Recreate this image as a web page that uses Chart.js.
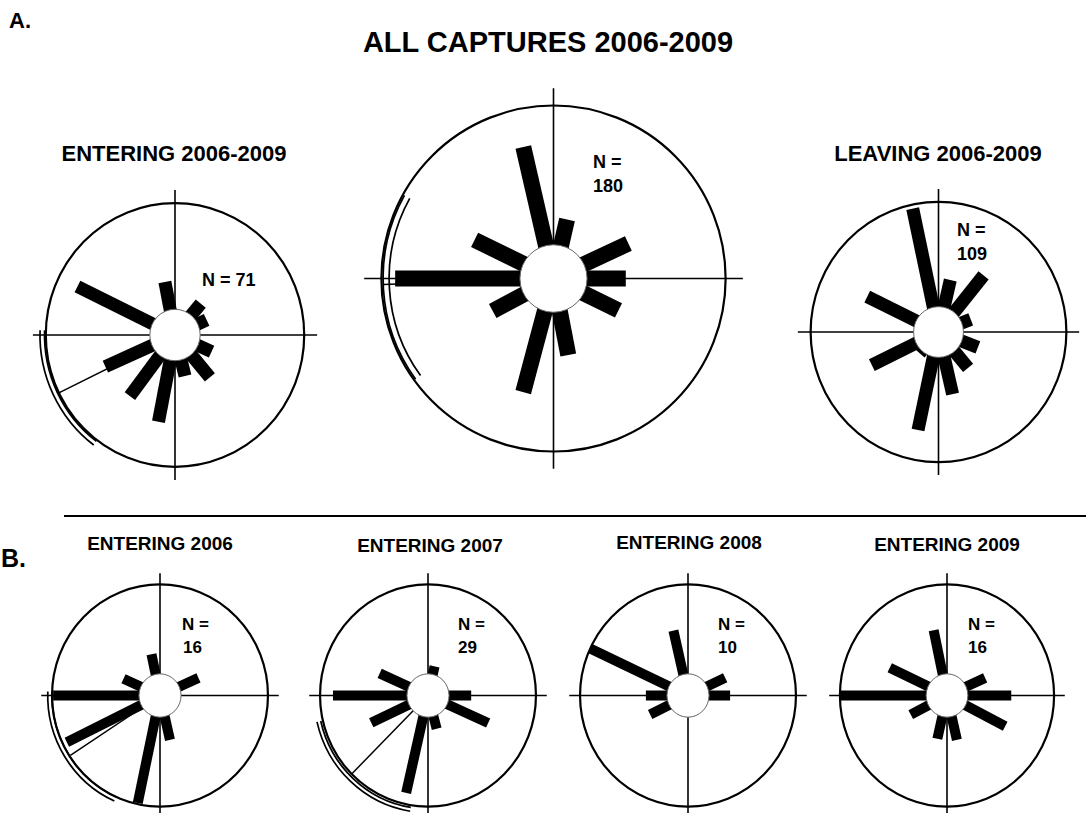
<!DOCTYPE html>
<html><head><meta charset="utf-8">
<script src="https://cdn.jsdelivr.net/npm/chart.js@4.4.1/dist/chart.umd.min.js"></script>
<style>
html,body{margin:0;padding:0;background:#fff;}
#fig{position:relative;width:1086px;height:813px;overflow:hidden;background:#fff;font-family:"Liberation Sans",Arial,sans-serif;font-weight:bold;color:#000;}
.t{position:absolute;white-space:nowrap;line-height:1;}
canvas{position:absolute;}
#rule{position:absolute;left:64px;top:515px;width:1022px;height:2px;background:#000;}
</style></head><body><div id="fig"><div id="rule"></div></div>
<script>
// ---------- DATA (bar direction in degrees clockwise from north, bar reach in % of circle radius) ----------
const allAngles = [347, 13, 296, 65, 90, 270, 116, 242, 169, 195];
const allValues = [78, 35, 51, 48, 42, 92, 42, 40, 45, 68];
const enteringAllAngles = [296, 349, 40, 65, 114, 140, 166, 191, 217, 246];
const enteringAllValues = [84, 41, 31, 27, 31, 42, 32, 67, 58, 59];
const leavingAngles = [348, 13, 39, 69, 296, 111, 140, 167, 192, 244, 222];
const leavingValues = [97, 41, 56, 27, 62, 33, 36, 49, 77, 58, 22];
const e2006Angles = [348, 294, 66, 270, 244, 192, 167];
const e2006Values = [38, 37, 39, 99, 96, 99, 41];
const e2007Angles = [13, 294, 270, 90, 245, 114, 165, 193];
const e2007Values = [27, 49, 88, 40, 58, 61, 31, 90];
const e2008Angles = [295, 347, 65, 90, 270, 244];
const e2008Values = [100, 60, 38, 39, 39, 39];
const e2009Angles = [348, 295, 66, 270, 90, 243, 117, 193, 167];
const e2009Values = [60, 59, 39, 99, 60, 38, 61, 40, 41];
// mean direction and its confidence arc [from, to] (degrees clockwise from north)
const allMean = 268, allArc = [234, 299];
const enteringAllMean = 244, enteringAllArc = [217, 272];
const e2006Mean = 237, e2006Arc = [204, 272];
const e2007Mean = 225, e2007Arc = [189, 257];
// sample sizes
const nAll = "180", nEnteringAll = "71", nLeaving = "109";
const n2006 = "16", n2007 = "29", n2008 = "10", n2009 = "16";

// ---------- LAYOUT ----------
const EXT = 1.13, CROSS = 1.1;
const panels = [
  {cx:553, cy:278, rx:172, ry:173, bw:16, angles:allAngles, values:allValues, mean:allMean, meanLen:0.99, arc:allArc, arcR:[0.99,0.955]},
  {cx:175, cy:335, rx:129, ry:132, bw:13, angles:enteringAllAngles, values:enteringAllValues, mean:enteringAllMean, meanLen:1.0, arc:enteringAllArc, arcR:[1.01,1.045]},
  {cx:938, cy:332, rx:128, ry:130, bw:13, angles:leavingAngles, values:leavingValues},
  {cx:160, cy:695, rx:108, ry:111, bw:10, angles:e2006Angles, values:e2006Values, mean:e2006Mean, meanLen:0.99, arc:e2006Arc, arcR:[1.0,1.04]},
  {cx:428, cy:695, rx:108, ry:111, bw:10, angles:e2007Angles, values:e2007Values, mean:e2007Mean, meanLen:1.0, arc:e2007Arc, arcR:[1.02,1.055]},
  {cx:688, cy:695, rx:108, ry:111, bw:10, angles:e2008Angles, values:e2008Values},
  {cx:947, cy:695, rx:107, ry:111, bw:10, angles:e2009Angles, values:e2009Values}
];
const texts = [
  {s:"A.", x:9, b:29, f:22},
  {s:"ALL CAPTURES 2006-2009", x:548, b:53, f:29, c:true},
  {s:"ENTERING 2006-2009", x:174, b:162, f:22, c:true},
  {s:"LEAVING 2006-2009", x:938, b:162, f:22, c:true},
  {s:"B.", x:1, b:567, f:25},
  {s:"ENTERING 2006", x:160, b:550, f:19, c:true},
  {s:"ENTERING 2007", x:430, b:552, f:19, c:true},
  {s:"ENTERING 2008", x:689, b:549, f:19, c:true},
  {s:"ENTERING 2009", x:947, b:551, f:19, c:true},
  {s:"N = " + nEnteringAll, x:202, b:286, f:18},
  {s:"N =", x:593, b:168, f:18}, {s:nAll, x:593, b:192, f:18},
  {s:"N =", x:957, b:236, f:18}, {s:nLeaving, x:957, b:260, f:18},
  {s:"N =", x:182, b:630, f:17}, {s:n2006, x:183, b:653, f:17},
  {s:"N =", x:458, b:630, f:17}, {s:n2007, x:458, b:653, f:17},
  {s:"N =", x:718, b:630, f:17}, {s:n2008, x:718, b:653, f:17},
  {s:"N =", x:968, b:630, f:17}, {s:n2009, x:968, b:653, f:17}
];

const fig = document.getElementById('fig');
texts.forEach(t => {
  const d = document.createElement('div');
  d.className = 't';
  d.textContent = t.s;
  d.style.fontSize = t.f + 'px';
  d.style.top = (t.b - 0.8465 * t.f) + 'px';
  d.style.left = t.x + 'px';
  if (t.c) d.style.transform = 'translateX(-50%)';
  fig.appendChild(d);
});

function polar(deg, r) {
  const a = deg * Math.PI / 180;
  return {x: r * Math.sin(a), y: r * Math.cos(a)};
}
function seg(pts, w) {
  return {data: pts, showLine: true, borderColor: '#000', borderWidth: w, pointRadius: 0,
          borderCapStyle: 'butt', fill: false, tension: 0};
}
const toCanvas = d => (d - 90) * Math.PI / 180;

const framePlugin = {
  id: 'roseFrame',
  beforeDatasetsDraw(chart, args, o) {
    const {ctx, scales: {x, y}} = chart;
    const cx = x.getPixelForValue(0), cy = y.getPixelForValue(0);
    const rx = x.getPixelForValue(1) - cx, ry = cy - y.getPixelForValue(1);
    ctx.save();
    ctx.beginPath(); ctx.ellipse(cx, cy, rx, ry, 0, 0, Math.PI * 2);
    ctx.lineWidth = 2.2; ctx.strokeStyle = '#000'; ctx.stroke();
    ctx.restore();
  },
  afterDatasetsDraw(chart, args, o) {
    const {ctx, scales: {x, y}} = chart;
    const cx = x.getPixelForValue(0), cy = y.getPixelForValue(0);
    const rx = x.getPixelForValue(1) - cx, ry = cy - y.getPixelForValue(1);
    ctx.save();
    ctx.beginPath(); ctx.ellipse(cx, cy, rx * o.inner, ry * o.inner, 0, 0, Math.PI * 2);
    ctx.fillStyle = '#fff'; ctx.fill();
    ctx.lineWidth = 1; ctx.strokeStyle = '#666'; ctx.stroke();
    if (o.arc) {
      ctx.strokeStyle = '#000'; ctx.lineWidth = 1.7;
      o.arcR.forEach(k => {
        ctx.beginPath();
        ctx.ellipse(cx, cy, rx * k, ry * k, 0, toCanvas(o.arc[0]), toCanvas(o.arc[1]));
        ctx.stroke();
      });
    }
    ctx.restore();
  }
};

panels.forEach(p => {
  const W = Math.round(2 * EXT * p.rx), H = Math.round(2 * EXT * p.ry);
  const cv = document.createElement('canvas');
  cv.width = W; cv.height = H;
  cv.style.width = W + 'px'; cv.style.height = H + 'px';
  cv.style.left = (p.cx - W / 2) + 'px';
  cv.style.top = (p.cy - H / 2) + 'px';
  fig.appendChild(cv);
  const ds = [];
  if (p.mean != null) ds.push(seg([polar(p.mean, 0), polar(p.mean, p.meanLen)], 1.5));
  p.angles.forEach((a, i) => ds.push(seg([polar(a, 0), polar(a, p.values[i] / 100)], p.bw)));
  ds.push(seg([{x: -CROSS, y: 0}, {x: CROSS, y: 0}], 1.6));
  ds.push(seg([{x: 0, y: -CROSS}, {x: 0, y: CROSS}], 1.6));
  new Chart(cv, {
    type: 'scatter',
    data: {datasets: ds},
    options: {
      responsive: false, animation: false, devicePixelRatio: 1,
      layout: {padding: 0},
      scales: {
        x: {type: 'linear', min: -EXT, max: EXT, display: false},
        y: {type: 'linear', min: -EXT, max: EXT, display: false}
      },
      plugins: {
        legend: {display: false}, tooltip: {enabled: false}, title: {display: false},
        roseFrame: {inner: 0.195, arc: p.arc || null, arcR: p.arcR || []}
      },
      events: []
    },
    plugins: [framePlugin]
  });
});
</script>
</body></html>
